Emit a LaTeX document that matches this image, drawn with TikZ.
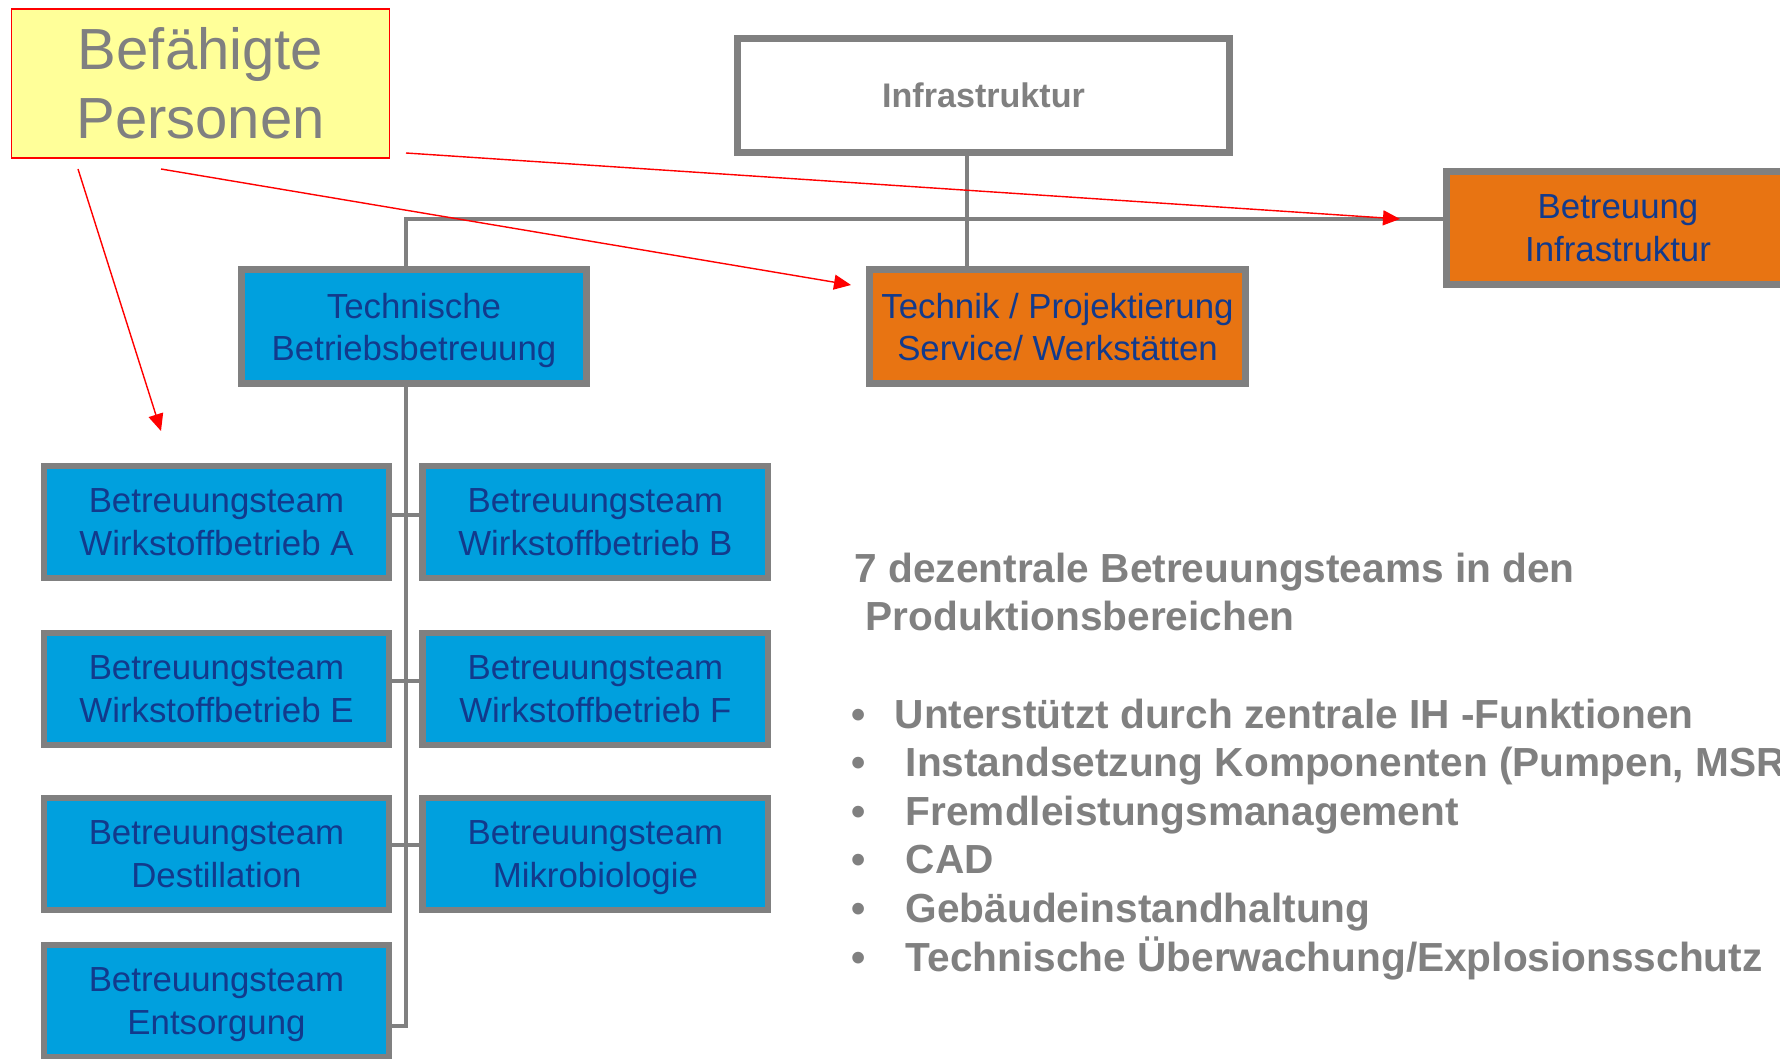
\documentclass[tikz,border=0pt]{standalone}
\usepackage{fontspec}
\setmainfont{Liberation Sans}
\usetikzlibrary{arrows.meta, positioning}
\definecolor{boxblue}{RGB}{0,160,222}
\definecolor{boxorange}{RGB}{232,116,18}
\definecolor{framegray}{RGB}{128,128,128}
\definecolor{textnavy}{RGB}{18,58,140}
\definecolor{notegray}{RGB}{128,128,128}
\definecolor{paleyellow}{RGB}{255,255,153}
\tikzstyle{basebox} = [rectangle, draw=framegray, line width=1.9pt, inner sep=0pt, align=center, text=textnavy, text depth=0pt, font=\fontsize{9.9}{12}\selectfont]
\tikzstyle{teambox} = [basebox, fill=boxblue, minimum width=3.45cm, minimum height=1.12cm]
\tikzstyle{servicebox} = [basebox, fill=boxorange, minimum height=1.14cm]
\tikzstyle{headbox} = [basebox, fill=white, text=notegray, font=\fontsize{9.7}{12}\selectfont\bfseries, minimum width=4.92cm, minimum height=1.14cm]
\tikzstyle{personbox} = [rectangle, draw=red, line width=0.5pt, fill=paleyellow, inner sep=0pt, align=center, text=notegray, font=\fontsize{16.5}{19.6}\selectfont, minimum width=3.78cm, minimum height=1.49cm]
\tikzstyle{link} = [draw=framegray, line width=1pt]
\tikzstyle{pointer} = [draw=red, line width=0.4pt, -{Triangle[length=0.17cm, width=0.15cm]}]
\tikzstyle{note} = [anchor=base west, inner sep=0pt, text=notegray, font=\fontsize{11.55}{13.8}\selectfont\bfseries]

\begin{document}
\begin{tikzpicture}[x=0.01cm, y=-0.01cm]
  \useasboundingbox (0,0) rectangle (1780,1058);
  \clip (0,0) rectangle (1780,1058);

  % Top: persons and infrastructure
  \node (persons) at (200.5,83.5) [personbox] {Befähigte\\Personen};
  \node (infra) at (983.5,95.5) [headbox] {Infrastruktur};

  % Second level
  \node (tbb) at (414,326.5) [basebox, fill=boxblue, minimum width=3.45cm, minimum height=1.14cm] {Technische\\Betriebsbetreuung};
  \node (tps) at (1057.5,326.5) [servicebox, minimum width=3.76cm] {Technik / Projektierung\\Service/ Werkstätten};
  \node (binfra) at (1618,228) [servicebox, minimum width=3.43cm, minimum height=1.13cm] {Betreuung\\Infrastruktur};

  % Teams, left column
  \node (teamA) at (216.5,522) [teambox] {Betreuungsteam\\Wirkstoffbetrieb A};
  \node (teamE) at (216.5,689) [teambox] {Betreuungsteam\\Wirkstoffbetrieb E};
  \node (teamD) at (216.5,854) [teambox] {Betreuungsteam\\Destillation};
  \node (ents) at (216.5,1001) [teambox] {Betreuungsteam\\Entsorgung};

  % Teams, right column
  \node (teamB) [teambox, right=0.27cm of teamA] {Betreuungsteam\\Wirkstoffbetrieb B};
  \node (teamF) [teambox, right=0.27cm of teamE] {Betreuungsteam\\Wirkstoffbetrieb F};
  \node (teamM) [teambox, right=0.27cm of teamD] {Betreuungsteam\\Mikrobiologie};

  % Lines of the chart
  \coordinate (trunk) at (406,219);
  \coordinate (drop) at (967,219);
  \draw[link] (trunk |- tbb.north) -- (trunk) -- (trunk -| binfra.west);
  \draw[link] (drop |- infra.south) -- (drop |- tps.north);
  \draw[link] (trunk |- tbb.south) -- (trunk |- 0,1026) -- (ents.east |- 0,1026);
  \foreach \l/\r/\yy in {teamA/teamB/515, teamE/teamF/681, teamD/teamM/845}
    \draw[link] (\l.east |- 0,\yy) -- (\r.west |- 0,\yy);

  % Red pointers
  \coordinate (from1) at (78,169);
  \coordinate (to1) at (161,431);
  \coordinate (from2) at (161,169);
  \coordinate (to2) at (851,285);
  \coordinate (from3) at (406,153);
  \coordinate (to3) at (1400,219);
  \draw[pointer] (from1) -- (to1);
  \draw[pointer] (from2) -- (to2);
  \draw[pointer] (from3) -- (to3);

  % Notes on the right
  \node (title1) at (854,582) [note] {7 dezentrale Betreuungsteams in den};
  \node (title2) at (865,630.7) [note] {Produktionsbereichen};
  \foreach \tx/\txt [count=\i] in {894/{Unterstützt durch zentrale IH -Funktionen},
      905/{Instandsetzung Komponenten (Pumpen, MSR},
      905/{Fremdleistungsmanagement},
      905/{CAD},
      905/{Gebäudeinstandhaltung},
      905/{Technische Überwachung/Explosionsschutz}} {
    \node (dot\i) at (851,{728+48.6*(\i-1)}) [note] {\textbullet};
    \node (item\i) at (\tx,{728+48.6*(\i-1)}) [note] {\txt};
  }
\end{tikzpicture}
\end{document}
